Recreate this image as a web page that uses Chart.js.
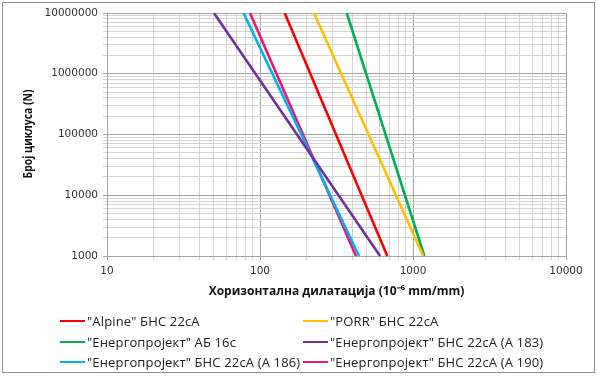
<!DOCTYPE html>
<html>
<head>
<meta charset="utf-8">
<script src="https://cdn.jsdelivr.net/npm/chart.js@4"></script>
<style>
  html, body { margin: 0; padding: 0; background: #fff; }
  #wrap { position: relative; width: 597px; height: 378px; overflow: hidden; }
  #frame { position: absolute; left: 2px; top: 2px; width: 591px; height: 369px; border: 1px solid #8c8c8c; }
  canvas { position: absolute; left: 0; top: 0; }
  #yTitle { position: absolute; left: 28px; top: 134px; white-space: nowrap; line-height: 1;
            font-family: "Open Sans", sans-serif; font-size: 12.5px; font-weight: bold; color: #111;
            transform: translate(-50%, -50%) rotate(-90deg) scaleX(0.83); }
  #legend { position: absolute; left: 0; top: 0; width: 597px; height: 378px; pointer-events: none;
            font-family: "Open Sans", sans-serif; font-size: 13px; letter-spacing: 0.15px; color: #222; }
  .leg-item { position: absolute; display: flex; align-items: center; height: 16px; white-space: nowrap; }
  .leg-line { width: 25px; height: 2.5px; margin-right: 2px; }
</style>
</head>
<body>
<div id="wrap">
  <div id="frame"></div>
  <canvas id="fatigueChart" width="597" height="378"></canvas>
  <div id="yTitle">Број циклуса (N)</div>
  <div id="legend"></div>
</div>
<script>
// ── Data (strain in 10^-6 mm/mm at the two cycle counts) ────────────────────
const CYCLES = [10000000, 1000];

const alpineStrain  = [145, 679];
const porrStrain    = [225, 1167];
const ab16Strain    = [369, 1186];
const a183Strain    = [50, 609];
const a186Strain    = [78, 444];
const a190Strain    = [86, 424];

const SERIES_LABELS = [
  '"Alpine" БНС 22сА',
  '"PORR" БНС 22сА',
  '"Енергопројект" АБ 16с',
  '"Енергопројект" БНС 22сА (А 183)',
  '"Енергопројект" БНС 22сА (А 186)',
  '"Енергопројект" БНС 22сА (А 190)'
];
const SERIES_VALUES = [alpineStrain, porrStrain, ab16Strain, a183Strain, a186Strain, a190Strain];
const COLORS = ['#ff0000', '#ffc000', '#00b050', '#7030a0', '#00b0f0', '#f5166b'];

const X_TICKS = [10, 100, 1000, 10000];
const Y_TICKS = [1000, 10000, 100000, 1000000, 10000000];

// minor gridlines at 2..9 of each decade
function withMinor(majors) {
  const out = [];
  majors.forEach((m, i) => {
    out.push(m);
    if (i < majors.length - 1) for (let k = 2; k <= 9; k++) out.push(m * k);
  });
  return out;
}
const isMajor = v => Math.abs(Math.log10(v) - Math.round(Math.log10(v))) < 1e-9;
const gridColor = ctx => (ctx.tick && isMajor(ctx.tick.value)) ? '#a3a3a3' : '#d4d4d4';

const tickFont = { family: '"DejaVu Sans", sans-serif', size: 10.5 };
const titleFont = { family: '"Open Sans", sans-serif', size: 12, weight: 'bold' };

new Chart(document.getElementById('fatigueChart'), {
  type: 'scatter',
  data: {
    datasets: SERIES_LABELS.map((label, i) => ({
      label,
      data: SERIES_VALUES[i].map((x, j) => ({ x, y: CYCLES[j] })),
      showLine: true,
      borderColor: COLORS[i],
      backgroundColor: COLORS[i],
      borderWidth: 2.6,
      pointRadius: 0,
      fill: false
    }))
  },
  options: {
    responsive: false,
    animation: false,
    layout: { padding: { left: 0, top: 13, right: 31, bottom: 72 } },
    plugins: { legend: { display: false }, tooltip: { enabled: false } },
    scales: {
      x: {
        type: 'logarithmic',
        min: 10, max: 10000,
        afterBuildTicks: s => { s.ticks = withMinor(X_TICKS).map(value => ({ value })); },
        afterFit: s => { s.height = 50; },
        border: { color: '#a3a3a3' },
        grid: { color: gridColor, tickLength: 4 },
        ticks: {
          autoSkip: false, maxRotation: 0, padding: 5,
          color: '#333', font: tickFont,
          callback: v => X_TICKS.includes(v) ? String(v) : ''
        },
        title: {
          display: true,
          text: 'Хоризонтална дилатација (10⁻⁶ mm/mm)',
          color: '#111', font: titleFont,
          padding: { top: 0, bottom: 7 }
        }
      },
      y: {
        type: 'logarithmic',
        min: 1000, max: 10000000,
        afterBuildTicks: s => { s.ticks = withMinor(Y_TICKS).map(value => ({ value })); },
        afterFit: s => { s.width = 107; },
        border: { color: '#a3a3a3' },
        grid: { color: gridColor, tickLength: 4 },
        ticks: {
          autoSkip: false, padding: 5,
          color: '#333', font: tickFont,
          callback: v => Y_TICKS.includes(v) ? String(v) : ''
        }
      }
    }
  }
});

// ── Legend (two columns) ────────────────────────────────────────────────────
const LEG_X = [60, 303];
const LEG_Y = [313, 334, 354];
const legend = document.getElementById('legend');
legend.innerHTML = SERIES_LABELS.map((label, i) => `
  <div class="leg-item" style="left:${LEG_X[i % 2]}px; top:${LEG_Y[Math.floor(i / 2)]}px">
    <div class="leg-line" style="background:${COLORS[i]}"></div>${label}
  </div>`).join('');
</script>
</body>
</html>
